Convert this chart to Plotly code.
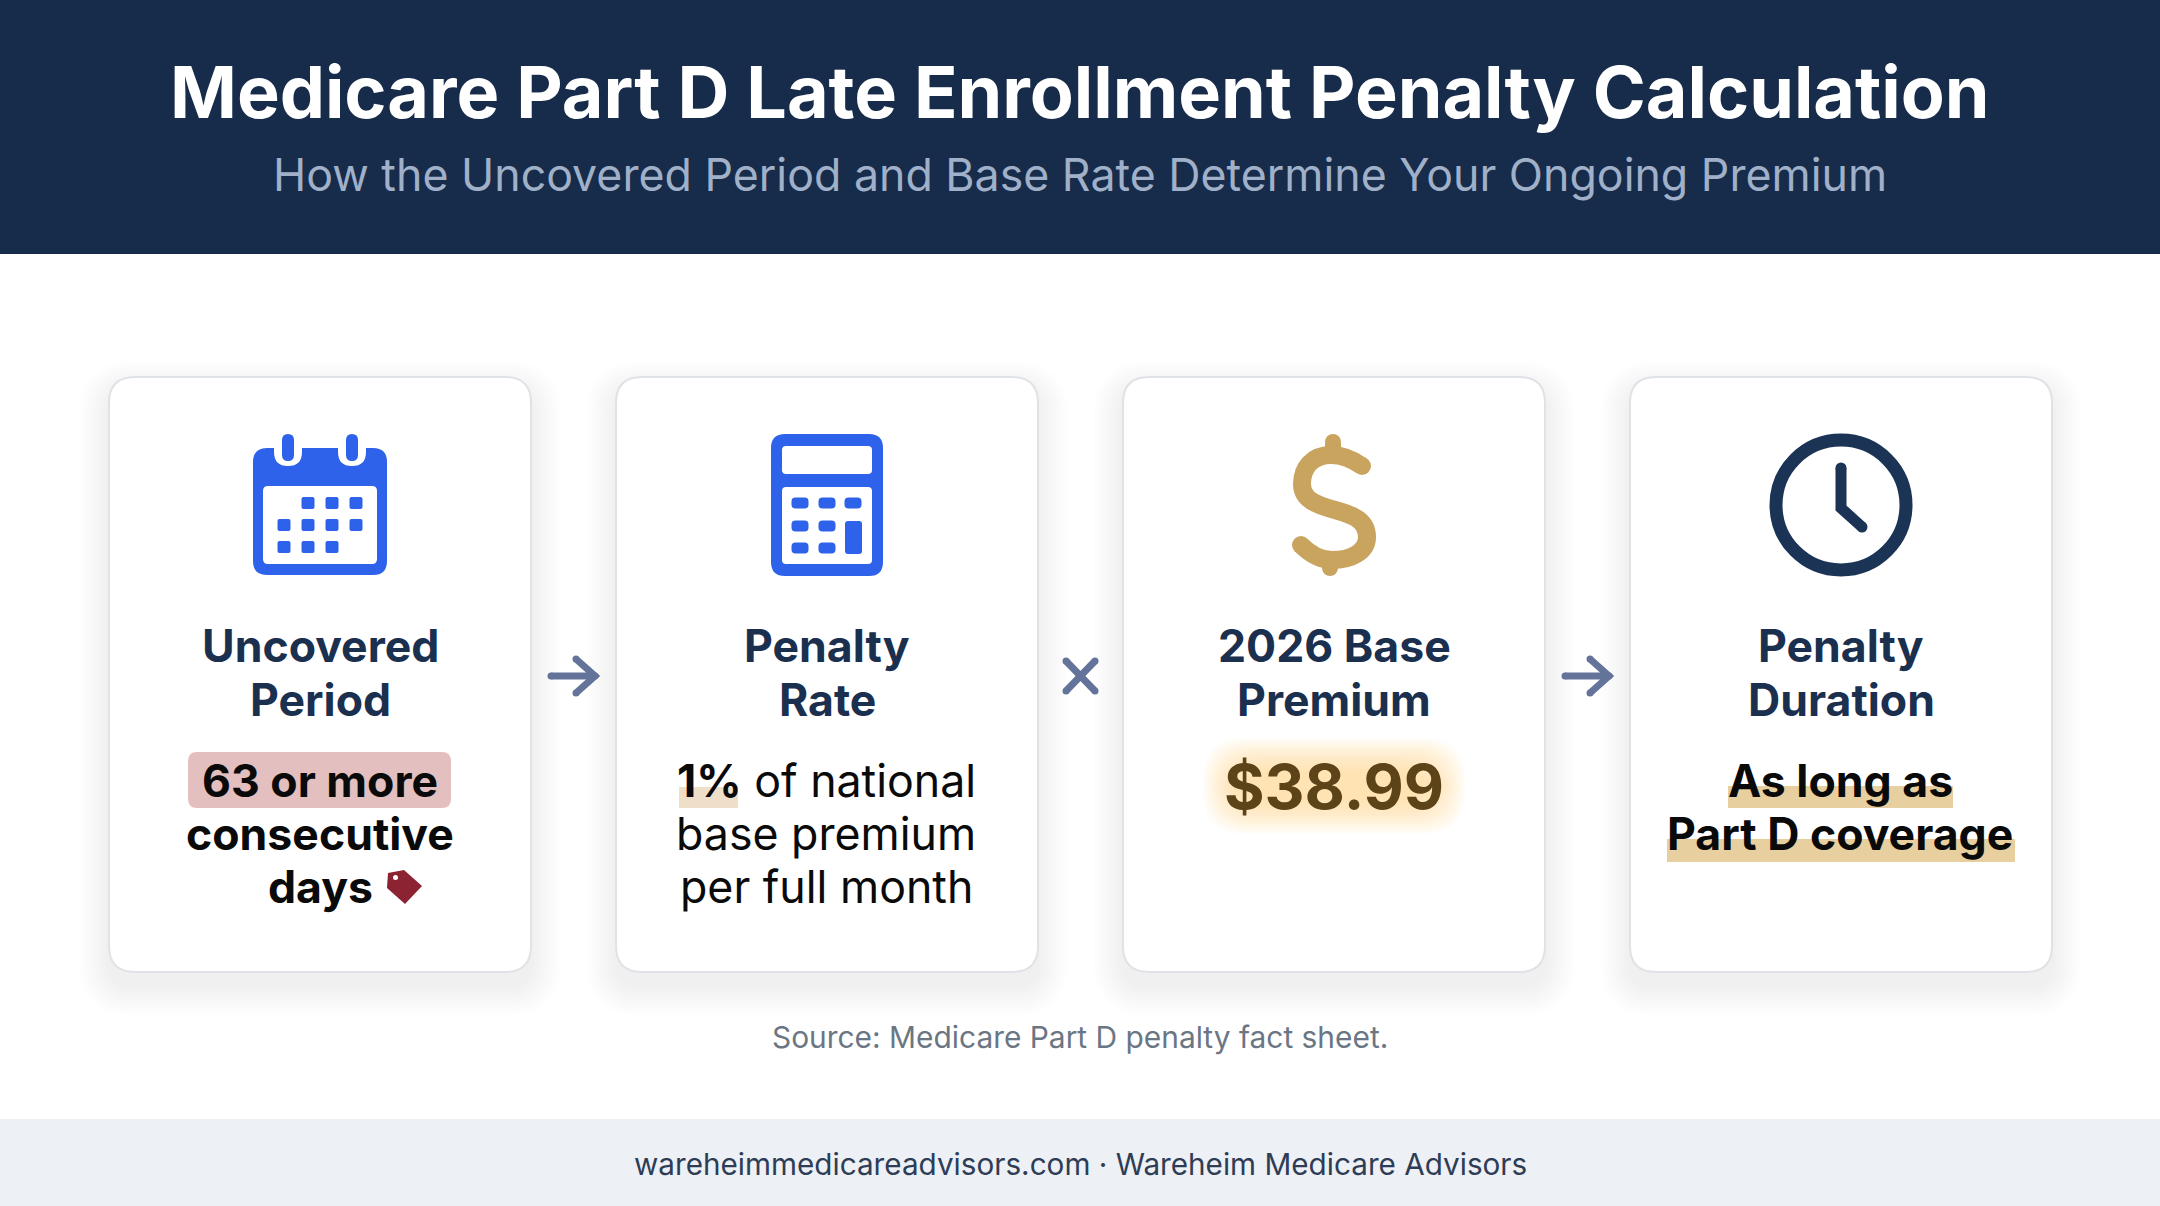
import plotly.graph_objects as go

title = "Medicare Part D Late Enrollment Penalty Calculation"
subtitle = "How the Uncovered Period and Base Rate Determine Your Ongoing Premium"
source = "Source: Medicare Part D penalty fact sheet."
footer = "wareheimmedicareadvisors.com · Wareheim Medicare Advisors"

card_titles = [["Uncovered", "Period"], ["Penalty", "Rate"], ["2026 Base", "Premium"], ["Penalty", "Duration"]]
card_left = [109, 616, 1123, 1630]
card_w = 422
card_top = 377
card_bottom = 972

NAVY = "#172B4A"
TITLE_C = "#1B2F4F"
BLUE = "#2F62EA"
GOLD = "#C9A45E"
INK = "#0A0A0A"
FONT = "Inter"


def rrect(x0, y0, x1, y1, r):
    return (f"M{x0+r},{y0} L{x1-r},{y0} Q{x1},{y0} {x1},{y0+r} L{x1},{y1-r} Q{x1},{y1} {x1-r},{y1} "
            f"L{x0+r},{y1} Q{x0},{y1} {x0},{y1-r} L{x0},{y0+r} Q{x0},{y0} {x0+r},{y0} Z")


shapes = []


def add_path(path, fill, opacity=1, line=None, width=0):
    shapes.append(dict(type="path", path=path, fillcolor=fill, opacity=opacity, layer="below",
                       line=dict(color=line or "rgba(0,0,0,0)", width=width)))


def add_rect(x0, y0, x1, y1, fill, r=0, opacity=1):
    add_path(rrect(x0, y0, x1, y1, r), fill, opacity)


def add_dot(x, y, r, fill):
    shapes.append(dict(type="circle", x0=x - r, y0=y - r, x1=x + r, y1=y + r, fillcolor=fill, layer="below",
                       line=dict(width=0)))


def add_stroke(path, color, width, caps=()):
    shapes.append(dict(type="path", path=path, layer="below", fillcolor="rgba(0,0,0,0)",
                       line=dict(color=color, width=width)))
    for x, y in caps:
        add_dot(x, y, width / 2, color)


annotations = []


def add_text(x, y, text, size, color, weight=400):
    annotations.append(dict(x=x, y=y, text=text, showarrow=False, xanchor="center", yanchor="middle",
                            font=dict(family=FONT, size=size, color=color, weight=weight)))


# header and footer bands
add_rect(0, 0, 2160, 254, NAVY)
add_rect(0, 1119, 2160, 1206, "#EDF0F5")
add_text(1080, 91.5, title, 71.8, "#FFFFFF", 700)
add_text(1080, 175, subtitle, 44.7, "#9FB0C8", 400)
add_text(1080, 1037, source, 29.9, "#6B7684", 400)
add_text(1080, 1164, footer, 29.7, "#2E3D55", 400)

# cards with soft shadow
for left in card_left:
    for grow in range(30, 0, -2):
        add_rect(left - grow, card_top - grow + 14, left + card_w + grow, card_bottom + grow + 14,
                 "#4A5058", 26 + grow, 0.006)
    add_path(rrect(left, card_top, left + card_w, card_bottom, 26), "#FFFFFF", 1, "#DFE2E7", 2)

for left, lines in zip(card_left, card_titles):
    cx = left + card_w / 2
    add_text(cx, 646, lines[0], 44.6, TITLE_C, 700)
    add_text(cx, 700, lines[1], 44.6, TITLE_C, 700)

# calendar icon
add_rect(253, 448, 387, 575, BLUE, 14)
add_rect(263, 486, 377, 564, "#FFFFFF", 5)
for ring_x in [288, 352]:
    add_rect(ring_x - 14, 428, ring_x + 14, 466, "#FFFFFF", 14)
    add_rect(ring_x - 6, 434, ring_x + 6, 461, BLUE, 6)
calendar_cols = [284, 308, 332, 356]
calendar_rows = [503, 525, 547]
calendar_on = [[1, 2, 3], [0, 1, 2, 3], [0, 1, 2]]
for row_y, on in zip(calendar_rows, calendar_on):
    for c in on:
        add_rect(calendar_cols[c] - 6.5, row_y - 6, calendar_cols[c] + 6.5, row_y + 6, BLUE, 2)

# calculator icon
add_rect(771, 434, 883, 576, BLUE, 14)
add_rect(782, 446, 872, 474, "#FFFFFF", 4)
add_rect(782, 487, 872, 564, "#FFFFFF", 4)
button_cols = [800, 827, 853]
button_rows = [503, 526, 548]
button_on = [[0, 1, 2], [0, 1], [0, 1]]
for row_y, on in zip(button_rows, button_on):
    for c in on:
        add_rect(button_cols[c] - 8.5, row_y - 5.5, button_cols[c] + 8.5, row_y + 5.5, BLUE, 4)
add_rect(845, 521, 862, 554, BLUE, 3)

# dollar icon, stubs only at top and bottom
add_stroke("M1362,466 C1352,459 1342,455 1331,455 C1312,455 1302,468 1302,484 C1302,500 1317,505 1335,510 "
           "C1354,515 1367,521 1367,537 C1367,552 1351,560 1332,560 C1319,560 1309,553 1301,545",
           GOLD, 18, [(1362, 466), (1301, 545)])
add_stroke("M1333,443 L1333,456", GOLD, 16, [(1333, 442)])
add_stroke("M1330,559 L1330,568", GOLD, 16, [(1330, 568)])

# clock icon
CLOCK_C = "#1B3355"
shapes.append(dict(type="circle", x0=1776, y0=440, x1=1906, y1=570, fillcolor="#FFFFFF", layer="below",
                   line=dict(color=CLOCK_C, width=13)))
add_stroke("M1841,468 L1841,508 L1862,527", CLOCK_C, 11, [(1841, 468), (1862, 527)])

# card 1 body
add_rect(188, 752, 451, 808, "#E3BFBF", 9)
add_text(320, 781, "63 or more", 44.6, INK, 700)
add_text(320, 834, "consecutive", 44.6, INK, 700)
add_text(320, 887, "days", 44.6, INK, 700)
add_path("M388,873 L404,870 L422,886 L405,904 L387,888 Z", "#8B2332")
add_dot(395.5, 877.5, 2.5, "#FFFFFF")

# card 2 body
add_rect(679, 787, 738, 808, "#F0DFC8")
add_text(826, 781, "<b>1%</b> of national", 44.7, INK, 400)
add_text(826, 834, "base premium", 44.7, INK, 400)
add_text(826, 887, "per full month", 44.7, INK, 400)

# card 3 body, glow built up from faint layers
for inset in range(0, 36, 2):
    add_rect(1203 + inset, 738 + inset, 1465 - inset, 834 - inset, "#F7CF8C", 42, 0.05)
add_text(1334, 786, "$38.99", 62, "#5C4318", 700)

# card 4 body
add_rect(1728, 786, 1953, 808, "#E8CFA0")
add_rect(1667, 839, 2015, 862, "#E8CFA0")
add_text(1840, 781, "As long as", 44.6, INK, 700)
add_text(1840, 834, "Part D coverage", 44.6, INK, 700)

# operators between the cards
OP_C = "#64739A"
for x0 in [548, 1562]:
    add_stroke(f"M{x0+3},676 L{x0+47},676", OP_C, 7, [(x0 + 3, 676)])
    add_stroke(f"M{x0+28},659 L{x0+47},676 L{x0+28},693", OP_C, 7, [(x0 + 28, 659), (x0 + 47, 676), (x0 + 28, 693)])
add_stroke("M1066,661 L1095,691", OP_C, 7, [(1066, 661), (1095, 691)])
add_stroke("M1095,661 L1066,691", OP_C, 7, [(1095, 661), (1066, 691)])

fig = go.Figure()
fig.update_layout(width=2160, height=1206, margin=dict(l=0, r=0, t=0, b=0), showlegend=False,
                  paper_bgcolor="#FFFFFF", plot_bgcolor="#FFFFFF", shapes=shapes, annotations=annotations,
                  xaxis=dict(range=[0, 2160], visible=False, fixedrange=True),
                  yaxis=dict(range=[1206, 0], visible=False, fixedrange=True))
fig.write_html("out.html", config={"displayModeBar": False},
               post_script="document.body.style.margin='0';")
